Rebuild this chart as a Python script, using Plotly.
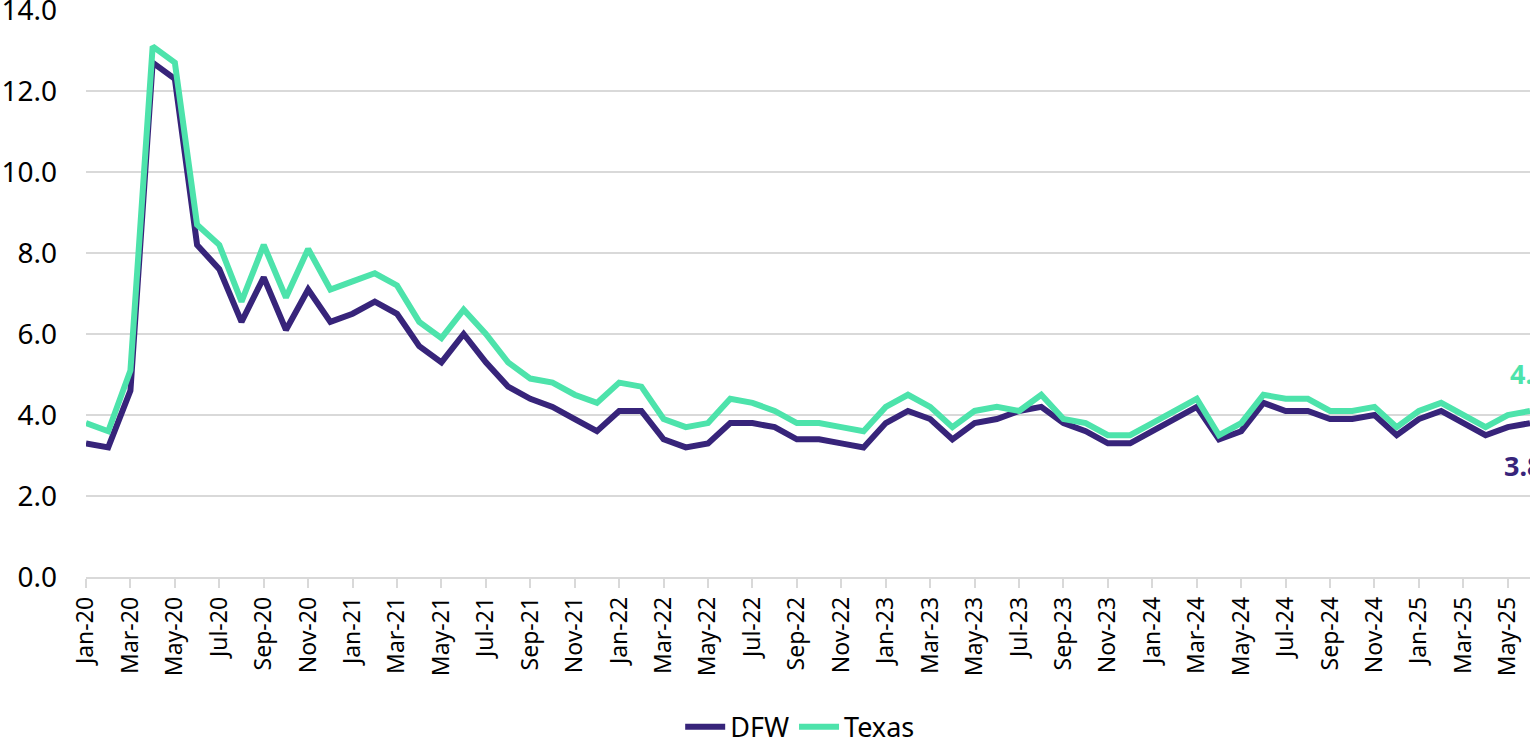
import plotly.graph_objects as go

# Monthly unemployment rate (%), Jan-2020 through Jun-2025
months = [
    "Jan-20", "Feb-20", "Mar-20", "Apr-20", "May-20", "Jun-20", "Jul-20", "Aug-20", "Sep-20", "Oct-20", "Nov-20", "Dec-20",
    "Jan-21", "Feb-21", "Mar-21", "Apr-21", "May-21", "Jun-21", "Jul-21", "Aug-21", "Sep-21", "Oct-21", "Nov-21", "Dec-21",
    "Jan-22", "Feb-22", "Mar-22", "Apr-22", "May-22", "Jun-22", "Jul-22", "Aug-22", "Sep-22", "Oct-22", "Nov-22", "Dec-22",
    "Jan-23", "Feb-23", "Mar-23", "Apr-23", "May-23", "Jun-23", "Jul-23", "Aug-23", "Sep-23", "Oct-23", "Nov-23", "Dec-23",
    "Jan-24", "Feb-24", "Mar-24", "Apr-24", "May-24", "Jun-24", "Jul-24", "Aug-24", "Sep-24", "Oct-24", "Nov-24", "Dec-24",
    "Jan-25", "Feb-25", "Mar-25", "Apr-25", "May-25", "Jun-25",
]

dfw = [
    3.3, 3.2, 4.6, 12.7, 12.3, 8.2, 7.6, 6.3, 7.4, 6.1, 7.1, 6.3,
    6.5, 6.8, 6.5, 5.7, 5.3, 6.0, 5.3, 4.7, 4.4, 4.2, 3.9, 3.6,
    4.1, 4.1, 3.4, 3.2, 3.3, 3.8, 3.8, 3.7, 3.4, 3.4, 3.3, 3.2,
    3.8, 4.1, 3.9, 3.4, 3.8, 3.9, 4.1, 4.2, 3.8, 3.6, 3.3, 3.3,
    3.6, 3.9, 4.2, 3.4, 3.6, 4.3, 4.1, 4.1, 3.9, 3.9, 4.0, 3.5,
    3.9, 4.1, 3.8, 3.5, 3.7, 3.8,
]

texas = [
    3.8, 3.6, 5.1, 13.1, 12.7, 8.7, 8.2, 6.8, 8.2, 6.9, 8.1, 7.1,
    7.3, 7.5, 7.2, 6.3, 5.9, 6.6, 6.0, 5.3, 4.9, 4.8, 4.5, 4.3,
    4.8, 4.7, 3.9, 3.7, 3.8, 4.4, 4.3, 4.1, 3.8, 3.8, 3.7, 3.6,
    4.2, 4.5, 4.2, 3.7, 4.1, 4.2, 4.1, 4.5, 3.9, 3.8, 3.5, 3.5,
    3.8, 4.1, 4.4, 3.5, 3.8, 4.5, 4.4, 4.4, 4.1, 4.1, 4.2, 3.7,
    4.1, 4.3, 4.0, 3.7, 4.0, 4.1,
]

tick_labels = months[::2]
y_ticks = [0, 2, 4, 6, 8, 10, 12, 14]

DFW_COLOR = "#37247A"
TX_COLOR = "#4DE3AB"
GRID = "#D9D9D9"

fig = go.Figure()
fig.add_trace(go.Scatter(
    x=months, y=dfw, name="DFW", mode="lines",
    line=dict(color=DFW_COLOR, width=6, shape="linear"),
))
fig.add_trace(go.Scatter(
    x=months, y=texas, name="Texas", mode="lines",
    line=dict(color=TX_COLOR, width=6, shape="linear"),
))

# Latest-month value labels
fig.add_annotation(
    x=months[-1], y=texas[-1], text=f"{texas[-1]:.1f}", showarrow=False,
    xanchor="left", yanchor="middle", xshift=-22, yshift=37,
    font=dict(family="Noto Sans", size=27, color=TX_COLOR, weight="bold"),
)
fig.add_annotation(
    x=months[-1], y=dfw[-1], text=f"{dfw[-1]:.1f}", showarrow=False,
    xanchor="left", yanchor="middle", xshift=-28, yshift=-42,
    font=dict(family="Noto Sans", size=27, color=DFW_COLOR, weight="bold"),
)

fig.update_layout(
    width=1530, height=745,
    margin=dict(l=86, r=0, t=10, b=168, autoexpand=False),
    paper_bgcolor="white", plot_bgcolor="white",
    showlegend=True,
    legend=dict(
        orientation="h", xref="container", yref="container",
        x=0.523, xanchor="center", y=0.024, yanchor="middle",
        font=dict(family="Noto Sans", size=27, color="#000000"),
        itemwidth=40, tracegroupgap=0,
    ),
)

fig.update_xaxes(
    type="category", range=[0, len(months) - 1],
    tickmode="array", tickvals=tick_labels, ticktext=tick_labels,
    tickangle=-90, automargin=False,
    ticks="outside", ticklen=9, tickwidth=1.5, tickcolor=GRID,
    showline=True, linecolor=GRID, linewidth=1.5,
    showgrid=False, zeroline=False,
    tickfont=dict(family="Noto Sans", size=23, color="#000000"),
)

fig.update_yaxes(
    range=[0, 14], tickmode="array", tickvals=y_ticks,
    ticktext=[f"{v:.1f}" for v in y_ticks],
    ticklabeloverflow="allow", automargin=False,
    showgrid=True, gridcolor=GRID, gridwidth=1.5,
    zeroline=False, showline=False, ticks="",
    ticklabelstandoff=28,
    tickfont=dict(family="Noto Sans", size=28, color="#000000"),
)

fig.write_html("out.html")
